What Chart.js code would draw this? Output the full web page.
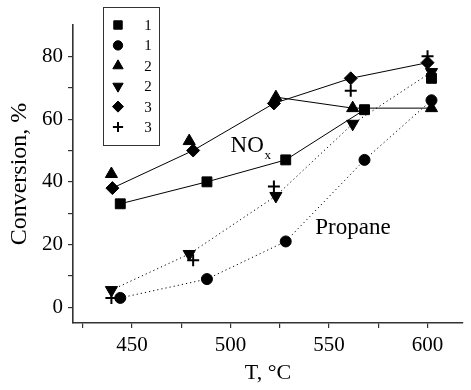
<!DOCTYPE html>
<html>
<head>
<meta charset="utf-8">
<script src="https://cdn.jsdelivr.net/npm/chart.js@4"></script>
<style>
  html, body { margin: 0; padding: 0; background: #fff; }
  #wrap { width: 471px; height: 390px; position: relative; }
</style>
</head>
<body>
<div id="wrap"><canvas id="chart"></canvas></div>
<script>
// ── Data (T in °C, conversion in %) ──
const squareT = [444, 488, 528, 568, 602];
const squareY = [33, 40, 47, 63, 73];
const circleT = [444, 488, 528, 568, 602];
const circleY = [3, 9, 21, 47, 66];
const triUpT = [439.5, 479, 523, 562, 602];
const triUpY = [42.5, 53, 67, 63.5, 63.5];
const triDownT = [439.5, 479, 523, 562, 602];
const triDownY = [5.5, 17, 35.5, 58.5, 75];
const diamondT = [440, 481, 522, 561, 600];
const diamondY = [38, 50, 65, 73, 78];
const plusT = [439.5, 481, 522, 561, 600];
const plusY = [3, 15, 38.5, 69, 80];

const seriesLabels = ["1", "1", "2", "2", "3", "3"];

// tick marks (labels only on the multiples of 50 / 20)
const xTicks = [425, 450, 475, 500, 525, 550, 575, 600];
const yTicks = [0, 10, 20, 30, 40, 50, 60, 70, 80];

const FONT = "'Liberation Serif', 'Times New Roman', serif";
const INK = "#000";
const AXIS = "#333";

const pts = (xs, ys) => xs.map((x, i) => ({ x: x, y: ys[i] }));
const hidden = "rgba(0,0,0,0)";

function series(label, data, style, radius, opts) {
    return Object.assign({
        label: label,
        data: data,
        pointStyle: style,
        pointRadius: radius,
        pointHoverRadius: radius,
        pointBackgroundColor: INK,
        pointBorderColor: INK,
        pointBorderWidth: 1,
        borderColor: INK,
        borderWidth: 1,
        showLine: true,
        tension: 0,
        fill: false,
    }, opts || {});
}

const datasets = [
    series(seriesLabels[0], pts(squareT, squareY), "rect", 7, {
        segment: { borderColor: (c) => (c.p0DataIndex === 3 ? hidden : INK) },
    }),
    series(seriesLabels[1], pts(circleT, circleY), "circle", 5.5, { borderDash: [1.2, 3] }),
    series(seriesLabels[2], pts(triUpT, triUpY), "triangle", 7, {
        segment: { borderColor: (c) => (c.p0DataIndex < 2 ? hidden : INK) },
    }),
    series(seriesLabels[3], pts(triDownT, triDownY), "triangle", 7, {
        pointRotation: 180,
        borderDash: [1.2, 3],
    }),
    series(seriesLabels[4], pts(diamondT, diamondY), "rectRot", 6.5),
    series(seriesLabels[5], pts(plusT, plusY), "cross", 6, {
        pointBorderWidth: 2,
        showLine: false,
    }),
];

// ── Boxed legend in the top-left corner ──
const boxLegend = {
    id: "boxLegend",
    afterDraw(chart) {
        const ctx = chart.ctx;
        const x0 = 103, y0 = 7, w = 56, h = 138;
        ctx.save();
        ctx.fillStyle = "#fff";
        ctx.fillRect(x0, y0, w, h);
        ctx.strokeStyle = AXIS;
        ctx.lineWidth = 1;
        ctx.strokeRect(x0 + 0.5, y0 + 0.5, w, h);
        ctx.font = "15px " + FONT;
        ctx.textAlign = "center";
        ctx.textBaseline = "middle";
        chart.data.datasets.forEach((ds, i) => {
            const cy = y0 + 18 + i * 20.4;
            ctx.fillStyle = INK;
            ctx.strokeStyle = INK;
            ctx.lineWidth = ds.pointBorderWidth;
            Chart.helpers.drawPoint(ctx, {
                pointStyle: ds.pointStyle,
                rotation: ds.pointRotation || 0,
                radius: ds.pointRadius * 0.85,
                borderWidth: ds.pointBorderWidth,
            }, x0 + 15, cy);
            ctx.fillStyle = INK;
            ctx.fillText(ds.label, x0 + 45, cy + 1);
        });
        ctx.restore();
    },
};

// ── Curve labels ──
const curveNotes = {
    id: "curveNotes",
    afterDatasetsDraw(chart) {
        const { ctx, scales: { x, y } } = chart;
        ctx.save();
        ctx.fillStyle = INK;
        ctx.textAlign = "left";
        ctx.textBaseline = "alphabetic";
        ctx.font = "23px " + FONT;
        ctx.fillText("NO", x.getPixelForValue(500), y.getPixelForValue(49.4));
        ctx.font = "13px " + FONT;
        ctx.fillText("x", x.getPixelForValue(517.2), y.getPixelForValue(47.3));
        ctx.font = "23px " + FONT;
        ctx.fillText("Propane", x.getPixelForValue(543), y.getPixelForValue(23.5));
        ctx.restore();
    },
};

new Chart(document.getElementById("chart"), {
    type: "scatter",
    data: { datasets: datasets },
    plugins: [curveNotes, boxLegend],
    options: {
        responsive: true,
        maintainAspectRatio: false,
        animation: false,
        layout: { padding: { top: 25, right: 0, left: 0, bottom: 0 } },
        plugins: {
            legend: { display: false },
            tooltip: { enabled: false },
        },
        scales: {
            x: {
                type: "linear",
                min: 420,
                max: 618,
                afterBuildTicks: (axis) => {
                    axis.ticks = xTicks.map((v) => ({ value: v }));
                },
                ticks: {
                    color: INK,
                    font: { family: FONT, size: 21 },
                    padding: 5,
                    maxRotation: 0,
                    autoSkip: false,
                    callback: (v) => (v % 50 === 0 ? v : ""),
                },
                grid: { drawOnChartArea: false, drawTicks: true, tickLength: 5, color: AXIS, lineWidth: 1.2 },
                border: { color: AXIS, width: 1.6 },
                title: {
                    display: true,
                    text: "T, °C",
                    color: INK,
                    font: { family: FONT, size: 22 },
                    padding: { top: 2, bottom: 4 },
                },
                afterFit: (axis) => { axis.height = 67; },
            },
            y: {
                type: "linear",
                min: -5,
                max: 90,
                afterBuildTicks: (axis) => {
                    axis.ticks = yTicks.map((v) => ({ value: v }));
                },
                ticks: {
                    color: INK,
                    font: { family: FONT, size: 21 },
                    padding: 5,
                    autoSkip: false,
                    callback: (v) => (v % 20 === 0 ? v : ""),
                },
                grid: { drawOnChartArea: false, drawTicks: true, tickLength: 5, color: AXIS, lineWidth: 1.2 },
                border: { color: AXIS, width: 1.6 },
                title: {
                    display: true,
                    text: "Conversion, %",
                    color: INK,
                    font: { family: FONT, size: 24 },
                    padding: { top: 5, bottom: 2 },
                },
                afterFit: (axis) => { axis.width = 73; },
            },
        },
    },
});
</script>
</body>
</html>
